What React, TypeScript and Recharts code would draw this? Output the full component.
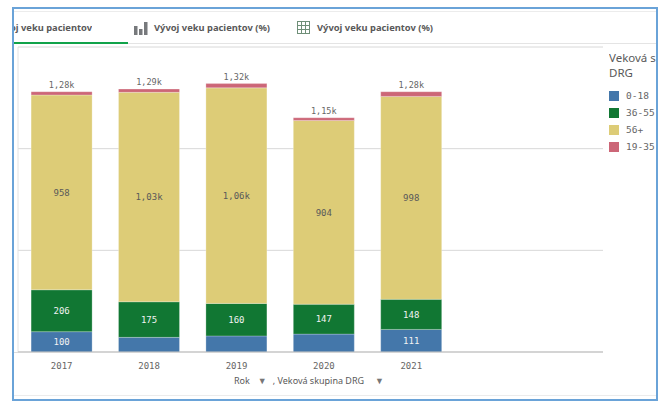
import { BarChart, Bar, XAxis, YAxis, CartesianGrid, LabelList } from 'recharts';

const years = ['2017', '2018', '2019', '2020', '2021'];
const age0to18 = [100, 72, 79, 88, 111];
const age36to55 = [206, 175, 160, 147, 148];
const age56plus = [958, 1030, 1060, 904, 998];
const age19to35 = [16, 16, 21, 13, 23];
const totals = [1280, 1290, 1320, 1150, 1280];
const yTicks = [0, 500, 1000, 1500];
const legendItems = [
  { label: '0-18', color: '#4477aa' },
  { label: '36-55', color: '#117733' },
  { label: '56+', color: '#ddcc77' },
  { label: '19-35', color: '#cc6677' },
];

const data = years.map((year, i) => ({
  year,
  a: age0to18[i],
  b: age36to55[i],
  c: age56plus[i],
  d: age19to35[i],
  total: totals[i],
}));

const mono = '"DejaVu Sans Mono", monospace';
const sans = '"Noto Sans", sans-serif';

const formatValue = (v: number) =>
  v >= 1000 ? `${(v / 1000).toFixed(2).replace('.', ',')}k` : `${v}`;

// Qlik hides the label when the segment is too thin
const segmentLabel = (v: number) => (v >= 100 ? formatValue(v) : '');

const BarsIcon = () => (
  <svg width={14} height={14} style={{ position: 'absolute', left: 134, top: 21 }}>
    <rect x={0} y={5} width={3.5} height={9} fill="#77797c" />
    <rect x={5} y={8} width={3.5} height={6} fill="#77797c" />
    <rect x={10} y={1} width={3.5} height={13} fill="#77797c" />
  </svg>
);

const TableIcon = () => (
  <svg width={14} height={14} style={{ position: 'absolute', left: 297, top: 21 }}>
    <rect x={0.5} y={0.5} width={12} height={12} fill="none" stroke="#6f8f78" />
    <path d="M4.5 0.5V12.5M8.5 0.5V12.5M0.5 4.5H12.5M0.5 8.5H12.5" stroke="#6f8f78" fill="none" />
  </svg>
);

const tabStyle = {
  position: 'absolute' as const,
  top: 20,
  fontFamily: sans,
  fontSize: 9.35,
  fontWeight: 700,
  color: '#595959',
  whiteSpace: 'nowrap' as const,
  lineHeight: '15px',
};

const LegendBox = () => (
  <div style={{ position: 'absolute', left: 609, top: 90.5 }}>
    {legendItems.map((item, i) => (
      <div key={item.label} style={{ position: 'absolute', left: 0, top: i * 17.2, whiteSpace: 'nowrap' }}>
        <span
          style={{ position: 'absolute', left: 0, top: 0, width: 10, height: 10, background: item.color }}
        />
        <span
          style={{ position: 'absolute', left: 17, top: -2, fontFamily: mono, fontSize: 9.5, color: '#666', lineHeight: '14px' }}
        >
          {item.label}
        </span>
      </div>
    ))}
  </div>
);

export default function App() {
  return (
    <div style={{ position: 'absolute', left: 0, top: 0, width: 663, height: 401, background: '#fff', overflow: 'hidden' }}>
      <BarChart
        width={663}
        height={401}
        data={data}
        barCategoryGap="15%"
        margin={{ top: 47, right: 60, bottom: 19, left: 0 }}
      >
        <CartesianGrid vertical={false} stroke="#d8d8d8" />
        <YAxis
          width={18}
          domain={[0, 1500]}
          ticks={yTicks}
          tick={() => <g />}
          tickLine={false}
          axisLine={{ stroke: '#e2e2e2' }}
        />
        <XAxis
          dataKey="year"
          padding={{ left: 0, right: 148 }}
          tickLine={false}
          axisLine={{ stroke: '#bdbdbd', strokeWidth: 1 }}
          tick={{ fill: '#666', fontSize: 9, fontFamily: mono }}
          tickMargin={5}
        />
        <Bar dataKey="a" name="0-18" stackId="s" fill="#4477aa" stroke="#fff" strokeOpacity={0.25} isAnimationActive={false}>
          <LabelList dataKey="a" position="center" fill="#f2f2f2" fontSize={9} fontFamily={mono} formatter={segmentLabel} />
        </Bar>
        <Bar dataKey="b" name="36-55" stackId="s" fill="#117733" stroke="#fff" strokeOpacity={0.25} isAnimationActive={false}>
          <LabelList dataKey="b" position="center" fill="#f2f2f2" fontSize={9} fontFamily={mono} formatter={segmentLabel} />
        </Bar>
        <Bar dataKey="c" name="56+" stackId="s" fill="#ddcc77" stroke="#fff" strokeOpacity={0.25} isAnimationActive={false}>
          <LabelList dataKey="c" position="center" fill="#595959" fontSize={9} fontFamily={mono} formatter={segmentLabel} />
        </Bar>
        <Bar dataKey="d" name="19-35" stackId="s" fill="#cc6677" stroke="#fff" strokeOpacity={0.25} isAnimationActive={false}>
          <LabelList dataKey="total" position="top" offset={4} fill="#666" fontSize={8.5} fontFamily={mono} formatter={formatValue} />
        </Bar>
      </BarChart>

      {/* tab bar, first tab is scrolled off to the left in the screenshot */}
      <div style={{ position: 'absolute', left: 14, top: 0, width: 78, height: 40, overflow: 'hidden' }}>
        <div style={{ ...tabStyle, left: 'auto', right: 0 }}>Vývoj veku pacientov</div>
      </div>
      <BarsIcon />
      <div style={{ ...tabStyle, left: 154 }}>Vývoj veku pacientov (%)</div>
      <TableIcon />
      <div style={{ ...tabStyle, left: 317 }}>Vývoj veku pacientov (%)</div>
      <div style={{ position: 'absolute', left: 13, top: 42, width: 115, height: 1.5, background: '#11a34a' }} />
      <div style={{ position: 'absolute', left: 128, top: 43, width: 528, height: 1, background: '#e4e4e4' }} />
      <div style={{ position: 'absolute', left: 14, top: 11, width: 643, height: 1, background: '#ececec' }} />
      <div style={{ position: 'absolute', left: 18, top: 46, width: 585, height: 1, background: '#ececec' }} />
      <div style={{ position: 'absolute', left: 14, top: 352, width: 4, height: 1, background: '#dcdcdc' }} />
      <div style={{ position: 'absolute', left: 14, top: 395, width: 643, height: 1, background: '#ececec' }} />

      {/* legend title, cut off by the frame like in the screenshot */}
      <div
        style={{
          position: 'absolute',
          left: 609,
          top: 50,
          width: 47,
          overflow: 'hidden',
          fontFamily: sans,
          fontSize: 11.5,
          lineHeight: '15px',
          color: '#595959',
          whiteSpace: 'nowrap',
        }}
      >
        Veková skupina
        <br />
        DRG
      </div>
      <LegendBox />

      {/* axis title */}
      <div
        style={{
          position: 'absolute',
          left: 234,
          top: 374,
          fontFamily: sans,
          fontSize: 9,
          lineHeight: '14px',
          color: '#595959',
          whiteSpace: 'nowrap',
        }}
      >
        Rok<span style={{ marginLeft: 8, marginRight: 6, fontSize: 9, color: '#777' }}>▼</span>, Veková skupina DRG
        <span style={{ marginLeft: 11, fontSize: 9, color: '#777' }}>▼</span>
      </div>

      {/* screenshot frame */}
      <div
        style={{
          position: 'absolute',
          left: 12,
          top: 7,
          width: 646,
          height: 394,
          boxSizing: 'border-box',
          border: '2px solid #6aa3d8',
          pointerEvents: 'none',
        }}
      />
    </div>
  );
}
